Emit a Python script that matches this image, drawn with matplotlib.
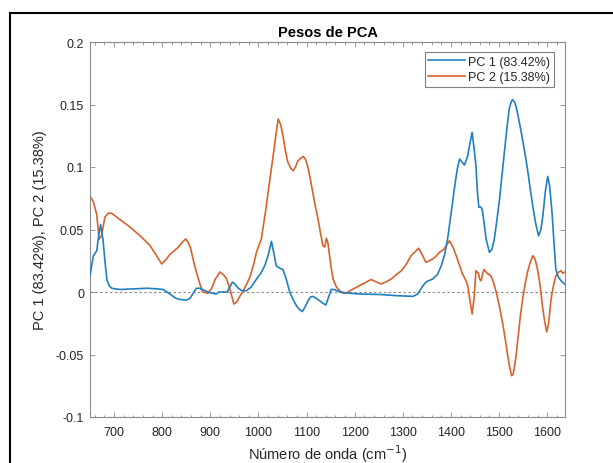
import matplotlib
matplotlib.use("Agg")
import matplotlib.pyplot as plt
from matplotlib.patches import Rectangle
from matplotlib.ticker import MultipleLocator

plt.rcParams['font.family'] = ['Liberation Sans', 'DejaVu Sans']

title = "Pesos de PCA"
xlabel = "Número de onda (cm$^{-1}$)"
ylabel = "PC 1 (83.42%), PC 2 (15.38%)"
label_pc1 = "PC 1 (83.42%)"
label_pc2 = "PC 2 (15.38%)"

x_ticks = [700, 800, 900, 1000, 1100, 1200, 1300, 1400, 1500, 1600]
y_ticks = [-0.1, -0.05, 0, 0.05, 0.1, 0.15, 0.2]
y_ticklabels = ["-0.1", "-0.05", "0", "0.05", "0.1", "0.15", "0.2"]

pc1_x = [650, 657, 664, 668, 672, 677, 681, 685, 690, 695, 712, 740, 768, 790, 802,
         816, 828, 837, 850, 858, 866, 871, 878, 884, 895, 905, 912, 918, 923, 935,
         946, 952, 958, 966, 975, 985, 996, 1005, 1013, 1020, 1027, 1031, 1037, 1044,
         1051, 1058, 1065, 1072, 1079, 1085, 1091, 1097, 1103, 1108, 1113, 1120, 1127,
         1134, 1140, 1145, 1151, 1158, 1169, 1190, 1210, 1252, 1290, 1321, 1331, 1340,
         1348, 1362, 1372, 1380, 1387, 1393, 1400, 1407, 1413, 1418, 1423, 1428, 1435,
         1440, 1444, 1448, 1452, 1455, 1458, 1462, 1465, 1469, 1473, 1480, 1485, 1490,
         1495, 1501, 1506, 1511, 1516, 1521, 1525, 1528, 1532, 1535, 1540, 1546, 1552,
         1559, 1565, 1570, 1576, 1582, 1587, 1591, 1596, 1601, 1605, 1610, 1614, 1618,
         1623, 1629, 1637]
pc1_y = [0.013, 0.029, 0.033, 0.045, 0.054, 0.042, 0.025, 0.010, 0.005, 0.003, 0.002,
         0.0025, 0.003, 0.0025, 0.002, -0.0016, -0.005, -0.006, -0.0065, -0.005, 0.000,
         0.003, 0.003, 0.002, 0.000, -0.001, -0.0016, 0.000, 0.0, 0.0, 0.008, 0.006,
         0.003, 0.001, 0.001, 0.004, 0.0104, 0.015, 0.021, 0.029, 0.0405, 0.033, 0.021,
         0.019, 0.018, 0.010, 0.0, -0.006, -0.011, -0.014, -0.0157, -0.012, -0.007,
         -0.004, -0.0035, -0.005, -0.007, -0.009, -0.0104, -0.005, 0.002, 0.002, 0.0,
         -0.001, -0.0016, -0.002, -0.003, -0.0035, -0.0016, 0.004, 0.008, 0.0104, 0.014,
         0.021, 0.030, 0.0424, 0.062, 0.0824, 0.098, 0.1064, 0.104, 0.1016, 0.109, 0.120,
         0.1277, 0.115, 0.101, 0.080, 0.0677, 0.068, 0.066, 0.055, 0.0424, 0.0317, 0.034,
         0.042, 0.056, 0.0744, 0.093, 0.1117, 0.130, 0.1464, 0.152, 0.1539, 0.152, 0.149,
         0.140, 0.128, 0.115, 0.0984, 0.082, 0.069, 0.055, 0.045, 0.050, 0.061, 0.080,
         0.0925, 0.085, 0.064, 0.040, 0.018, 0.012, 0.009, 0.006]

pc2_x = [650, 657, 664, 669, 674, 681, 688, 695, 712, 733, 754, 775, 790, 799, 808,
         816, 833, 842, 849, 854, 859, 865, 871, 878, 884, 895, 903, 910, 920, 927,
         934, 941, 949, 955, 962, 967, 975, 982, 990, 996, 1006, 1015, 1023, 1031,
         1036, 1041, 1046, 1051, 1056, 1061, 1067, 1072, 1077, 1082, 1088, 1093, 1098,
         1103, 1108, 1113, 1118, 1124, 1129, 1134, 1138, 1141, 1144, 1147, 1151, 1155,
         1162, 1169, 1176, 1183, 1190, 1210, 1222, 1234, 1245, 1255, 1265, 1276, 1287,
         1297, 1307, 1317, 1325, 1333, 1340, 1348, 1355, 1362, 1370, 1376, 1385, 1392,
         1397, 1404, 1411, 1418, 1424, 1430, 1435, 1440, 1444, 1448, 1452, 1457, 1460,
         1463, 1466, 1469, 1475, 1483, 1489, 1494, 1500, 1507, 1513, 1518, 1522, 1526,
         1529, 1532, 1535, 1539, 1544, 1549, 1554, 1559, 1565, 1570, 1575, 1580, 1585,
         1590, 1595, 1599, 1603, 1608, 1613, 1618, 1624, 1629, 1632, 1637]
pc2_y = [0.077, 0.072, 0.062, 0.042, 0.045, 0.060, 0.063, 0.063, 0.058, 0.052, 0.045,
         0.037, 0.028, 0.0224, 0.026, 0.030, 0.0357, 0.040, 0.0424, 0.040, 0.035, 0.025,
         0.016, 0.007, 0.0, -0.001, 0.003, 0.010, 0.016, 0.014, 0.0104, 0.002, -0.0096,
         -0.008, -0.003, 0.0, 0.006, 0.0117, 0.022, 0.032, 0.0424, 0.065, 0.088, 0.110,
         0.125, 0.1384, 0.134, 0.125, 0.113, 0.104, 0.099, 0.097, 0.100, 0.105, 0.107,
         0.1085, 0.106, 0.0997, 0.090, 0.0797, 0.069, 0.058, 0.047, 0.037, 0.036, 0.043,
         0.040, 0.0317, 0.020, 0.0104, 0.004, 0.001, -0.001, -0.001, 0.001, 0.005, 0.0075,
         0.010, 0.008, 0.0064, 0.008, 0.0104, 0.014, 0.017, 0.022, 0.029, 0.032, 0.035,
         0.030, 0.0237, 0.025, 0.0264, 0.029, 0.0317, 0.034, 0.038, 0.041, 0.036, 0.029,
         0.021, 0.0144, 0.010, 0.005, -0.008, -0.0176, -0.005, 0.017, 0.015, 0.010, 0.009,
         0.015, 0.018, 0.015, 0.013, 0.007, 0.0, -0.010, -0.024, -0.038, -0.051, -0.060,
         -0.067, -0.066, -0.060, -0.052, -0.0376, -0.020, -0.0056, 0.006, 0.0157, 0.024,
         0.029, 0.026, 0.018, 0.006, -0.011, -0.024, -0.032, -0.025, -0.0056, 0.005,
         0.013, 0.016, 0.017, 0.015, 0.016]

W, H = 613, 464
fig = plt.figure(figsize=(W / 100, H / 100), dpi=100)
fig.patch.set_facecolor('white')

ax = fig.add_axes([90 / W, 1 - 418 / H, (565 - 90) / W, (418 - 43) / H])

text_color = '#262626'
spine_color = '#8a8a8a'

ax.axhline(0, color='#8a8a8a', lw=0.8, linestyle=(0, (2.2, 2.2)), zorder=1)
ax.plot(pc1_x, pc1_y, color='#1f80bf', lw=1.2, label=label_pc1, zorder=3)
ax.plot(pc2_x, pc2_y, color='#d9622b', lw=1.2, label=label_pc2, zorder=2)

ax.set_xlim(650, 1637)
ax.set_ylim(-0.1, 0.2)
ax.set_xticks(x_ticks)
ax.xaxis.set_minor_locator(MultipleLocator(20))
ax.set_yticks(y_ticks)
ax.set_yticklabels(y_ticklabels)

for s in ax.spines.values():
    s.set_color(spine_color)
    s.set_linewidth(0.8)

ax.tick_params(which='both', direction='in', top=True, right=True,
               color=spine_color, labelcolor=text_color, labelsize=9)
ax.tick_params(which='major', length=3.5, width=0.6)
ax.tick_params(which='minor', length=1.8, width=0.6)
ax.tick_params(axis='y', pad=4.3)
ax.tick_params(axis='x', pad=6.5)

ax.set_title(title, fontsize=10.5, fontweight='bold', color='black', pad=4)
ax.set_xlabel(xlabel, fontsize=10.5, color=text_color, labelpad=3)
ax.set_ylabel(ylabel, fontsize=10.5, color=text_color, labelpad=6)

leg = ax.legend(loc='upper right', bbox_to_anchor=(554 / W, 1 - 53 / H),
                bbox_transform=fig.transFigure, fontsize=9, frameon=True,
                fancybox=False, edgecolor='#7f7f7f', framealpha=1,
                handlelength=2.9, handletextpad=0.3, borderpad=0.3,
                labelspacing=0.25, borderaxespad=0)
leg.get_frame().set_linewidth(0.8)
for t in leg.get_texts():
    t.set_color(text_color)

frame = Rectangle((10 / W, -0.2), 1.5, 1.2 - 13.7 / H, transform=fig.transFigure,
                  fill=False, edgecolor='black', lw=1.5, clip_on=False)
fig.add_artist(frame)

fig.savefig('out.png', dpi=100)
